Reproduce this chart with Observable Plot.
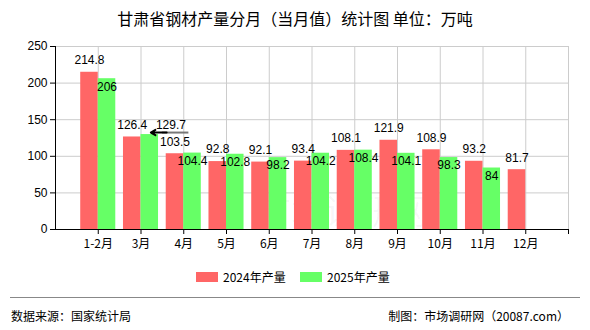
<!DOCTYPE html>
<html>
<head>
<meta charset="utf-8">
<script src="https://cdn.jsdelivr.net/npm/d3@7"></script>
<script src="https://cdn.jsdelivr.net/npm/@observablehq/plot@0.6"></script>
<style>
  html, body { margin: 0; padding: 0; background: #fff; }
  #wrap { position: relative; width: 590px; height: 330px; overflow: hidden; font-family: "Liberation Sans", "Noto Sans CJK SC", sans-serif; color: #000; }
  #title { position: absolute; left: 0; top: 7px; width: 590px; text-align: center; font-size: 16px; line-height: 22px; font-family: "Noto Sans CJK SC", sans-serif; }
  #chart { position: absolute; left: 0; top: 36px; }
  #legend { position: absolute; top: 268px; left: 0; width: 590px; font-size: 12px; font-family: "Noto Sans CJK SC", sans-serif; }
  .item { position: absolute; top: 0; height: 18px; line-height: 18px; }
  .sw { position: absolute; top: 4px; width: 22px; height: 10px; }
  .lbl { position: absolute; left: 27px; top: 0; white-space: nowrap; }
  #rule { position: absolute; left: 10px; top: 297px; width: 570px; height: 0; border-top: 1px solid #888; }
  #src { position: absolute; left: 11px; top: 308px; font-size: 12px; line-height: 16px; font-family: "Noto Sans CJK SC", sans-serif; }
  #maker { position: absolute; right: 21px; top: 308px; font-size: 12px; line-height: 16px; font-family: "Noto Sans CJK SC", sans-serif; }
</style>
</head>
<body>
<div id="wrap">
  <div id="title">甘肃省钢材产量分月（当月值）统计图 单位：万吨</div>
  <div id="chart"></div>
  <div id="legend"></div>
  <div id="rule"></div>
  <div id="src">数据来源：国家统计局</div>
  <div id="maker">制图：市场调研网（20087.com）</div>
</div>
<script>
const months = ["1-2月", "3月", "4月", "5月", "6月", "7月", "8月", "9月", "10月", "11月", "12月"];
const values2024 = [214.8, 126.4, 103.5, 92.8, 92.1, 93.4, 108.1, 121.9, 108.9, 93.2, 81.7];
const values2025 = [206, 129.7, 104.4, 102.8, 98.2, 104.2, 108.4, 104.1, 98.3, 84, null];
const seriesNames = ["2024年产量", "2025年产量"];
const colors = ["#FF6666", "#66FF66"];
const yTicks = [0, 50, 100, 150, 200, 250];

const d24 = months.map((m, k) => ({i: k + 1, month: m, v: values2024[k]}));
const d25 = months.map((m, k) => ({i: k + 1, month: m, v: values2025[k]})).filter(d => d.v != null);
const shifted = d25.filter(d => d.month === "3月");
const normal25 = d25.filter(d => d.month !== "3月");
const bw = 0.41;
const fontNum = "Liberation Sans, Noto Sans CJK SC, sans-serif";

const plot = Plot.plot({
  width: 590,
  height: 214,
  marginLeft: 55,
  marginRight: 22,
  marginTop: 10,
  marginBottom: 21,
  style: {fontSize: "12px", fontFamily: fontNum, background: "transparent", color: "#000"},
  x: {type: "linear", domain: [0, months.length + 1], axis: null},
  y: {domain: [0, 250], axis: null},
  marks: [
    Plot.gridY(yTicks.filter(t => t > 0), {stroke: "#cccccc", strokeOpacity: 1}),
    Plot.gridX(d3.range(1, months.length + 2), {stroke: "#cccccc", strokeOpacity: 1}),
    Plot.text(["市场调研网"], {frameAnchor: "bottom", dy: -6, dx: 30, fontSize: 34, fill: "#000", fillOpacity: 0.04, fontFamily: "Noto Sans CJK SC"}),
    Plot.rectY(d24, {x1: d => d.i - bw, x2: d => d.i, y: "v", fill: colors[0]}),
    Plot.rectY(d25, {x1: d => d.i, x2: d => d.i + bw, y: "v", fill: colors[1]}),
    Plot.ruleX([0], {stroke: "#000"}),
    Plot.ruleY([0], {stroke: "#000"}),
    Plot.axisY({ticks: yTicks, tickSize: 5, tickPadding: 3, fontSize: 12, anchor: "left", label: null, tickFormat: d => String(d)}),
    Plot.axisX({ticks: d3.range(1, months.length + 2), tickSize: 5, tickPadding: 5, fontSize: 12, label: null, fontFamily: "Noto Sans CJK SC", tickFormat: d => months[d - 1] ?? ""}),
    Plot.text(d24, {x: d => d.i - bw / 2, y: "v", text: d => String(d.v), dy: -12, fontSize: 12, fill: "#000", fontFamily: fontNum}),
    Plot.text(normal25, {x: d => d.i + bw / 2, y: "v", text: d => String(d.v), dy: 8, fontSize: 12, fill: "#000", fontFamily: fontNum}),
    Plot.ruleY(shifted, {x1: d => d.i + 0.5, x2: d => d.i + 1.12, y: "v", dy: -2, stroke: "#777", strokeWidth: 2}),
    Plot.arrow(shifted, {x1: d => d.i + 0.6, x2: d => d.i + 0.23, y1: "v", y2: "v", dy: -2, stroke: "#000", strokeWidth: 2, headLength: 9}),
    Plot.text(shifted, {x: d => d.i + 0.7, y: "v", text: d => String(d.v), dy: -9, fontSize: 12, fill: "#000", fontFamily: fontNum})
  ]
});
document.getElementById("chart").appendChild(plot);

const legend = document.getElementById("legend");
const lefts = [196, 300];
seriesNames.forEach((name, k) => {
  const it = document.createElement("div");
  it.className = "item";
  it.style.left = lefts[k] + "px";
  it.innerHTML = `<div class="sw" style="background:${colors[k]}"></div><div class="lbl">${name}</div>`;
  legend.appendChild(it);
});
</script>
</body>
</html>
